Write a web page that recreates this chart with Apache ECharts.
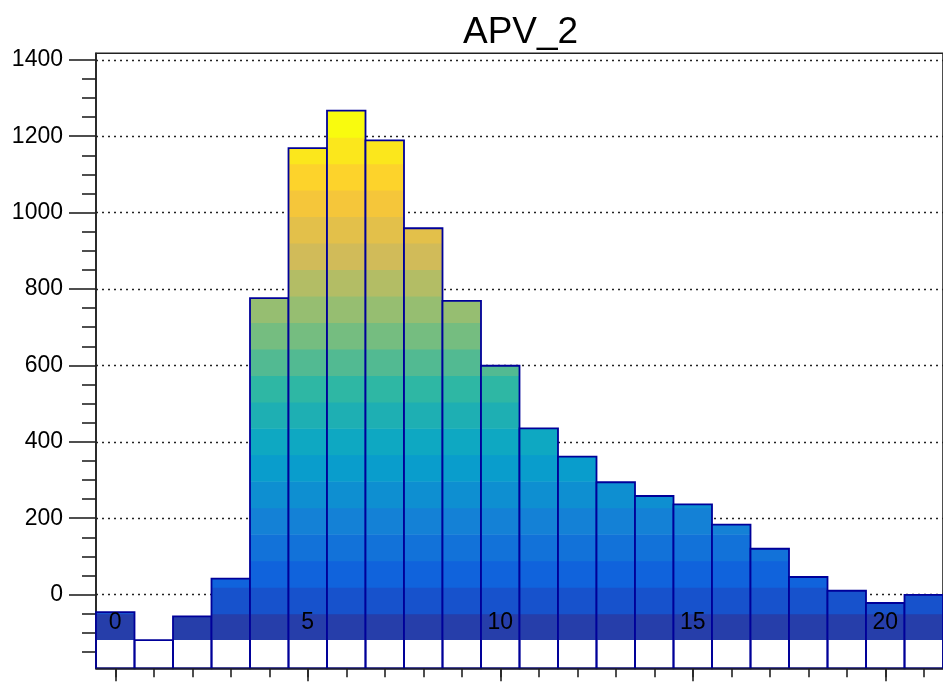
<!DOCTYPE html>
<html>
<head>
<meta charset="utf-8">
<title>APV_2</title>
<script src="https://cdn.jsdelivr.net/npm/echarts@6/dist/echarts.min.js"></script>
<style>
  html, body { margin: 0; padding: 0; background: #fff; }
  #chart { width: 943px; height: 683px; }
</style>
</head>
<body>
<div id="chart"></div>
<script>
// Histogram "APV_2": one entry per unit-width bin, centred on the integers.
const binCenters = [0, 1, 2, 3, 4, 5, 6, 7, 8, 9, 10, 11, 12, 13, 14, 15, 16, 17, 18, 19, 20, 21];
const binContents = [-46, -119, -57, 42, 776, 1169, 1267, 1189, 959, 769, 599, 435, 361, 294, 258, 236, 183, 120, 46, 10, -22, -1];

// Axis ticks and labels
const xMajorTicks = [0, 5, 10, 15, 20];
const xMinorTicks = [0, 1, 2, 3, 4, 5, 6, 7, 8, 9, 10, 11, 12, 13, 14, 15, 16, 17, 18, 19, 20, 21];
const yMajorTicks = [0, 200, 400, 600, 800, 1000, 1200, 1400];
const yMinorTicks = [-150, -100, -50, 50, 100, 150, 250, 300, 350, 450, 500, 550, 650, 700, 750,
                     850, 900, 950, 1050, 1100, 1150, 1250, 1300, 1350];

// Frame ranges
const X_MIN = -0.5, X_MAX = 21.5;
const Y_MIN = -193, Y_MAX = 1417;

// Bird palette stops (fraction, r, g, b)
const paletteStops = [0, 0.125, 0.25, 0.375, 0.5, 0.625, 0.75, 0.875, 1];
const paletteR = [0.2082, 0.0592, 0.0780, 0.0232, 0.1802, 0.5301, 0.8186, 0.9956, 0.9764];
const paletteG = [0.1664, 0.3599, 0.5041, 0.6419, 0.7178, 0.7492, 0.7328, 0.7862, 0.9832];
const paletteB = [0.5293, 0.8684, 0.8385, 0.7914, 0.6425, 0.4662, 0.3499, 0.1968, 0.0539];
const N_LEVELS = 20;

function paletteColor(f) {
  let k = 0;
  while (k < paletteStops.length - 2 && f > paletteStops[k + 1]) k++;
  const t = (f - paletteStops[k]) / (paletteStops[k + 1] - paletteStops[k]);
  const mix = (arr) => Math.round(255 * (arr[k] + t * (arr[k + 1] - arr[k])));
  return 'rgb(' + mix(paletteR) + ',' + mix(paletteG) + ',' + mix(paletteB) + ')';
}

const levelColors = [];
for (let i = 0; i < N_LEVELS; i++) levelColors.push(paletteColor((i + 1) / N_LEVELS));

const zMin = Math.min(...binContents);
const zMax = Math.max(...binContents);
const zStep = (zMax - zMin) / N_LEVELS;

const FONT = "'Liberation Sans', Arial, Helvetica, sans-serif";
const AXIS_COLOR = '#222';

const chart = echarts.init(document.getElementById('chart'), null, { renderer: 'canvas' });

function renderBin(params, api) {
  const x = api.value(0);
  const v = api.value(1);
  const left = api.coord([x - 0.5, 0])[0];
  const right = api.coord([x + 0.5, 0])[0];
  const yTop = api.coord([x, v])[1];
  const yBase = api.coord([x, Y_MIN])[1];
  const children = [];
  // colour bands by height, starting from the histogram minimum
  for (let i = 0; i < N_LEVELS; i++) {
    const lo = zMin + i * zStep;
    if (v <= lo) break;
    const hi = Math.min(lo + zStep, v);
    const y0 = api.coord([x, lo])[1];
    const y1 = api.coord([x, hi])[1];
    children.push({
      type: 'rect',
      shape: { x: left, y: y1, width: right - left, height: y0 - y1 + (i > 0 ? 0.6 : 0) },
      style: { fill: levelColors[i] }
    });
  }
  // bin outline down to the frame bottom
  children.push({
    type: 'rect',
    shape: { x: left, y: yTop, width: right - left, height: yBase - yTop },
    style: { fill: 'none', stroke: '#000099', lineWidth: 1.8 }
  });
  return { type: 'group', children: children };
}

const plainNumber = (v) => String(v);

const option = {
  animation: false,
  backgroundColor: '#ffffff',
  title: {
    text: 'APV_2',
    left: 458,
    top: 9,
    textStyle: { fontFamily: FONT, fontSize: 37, fontWeight: 'normal', color: '#000' }
  },
  grid: {
    left: 96, right: -27, top: 53.3, bottom: 14.7,
    show: true, borderColor: AXIS_COLOR, borderWidth: 1.6, backgroundColor: 'transparent',
    containLabel: false
  },
  xAxis: [
    {
      type: 'value', min: X_MIN, max: X_MAX, position: 'bottom', z: 5,
      axisLine: { show: true, onZero: false, lineStyle: { color: AXIS_COLOR, width: 1.6 } },
      axisTick: { show: true, inside: false, length: 13, customValues: xMajorTicks,
                  lineStyle: { color: AXIS_COLOR, width: 1.6 } },
      axisLabel: { show: true, customValues: xMajorTicks, margin: -57, formatter: plainNumber,
                   fontFamily: FONT, fontSize: 23, color: '#000' },
      splitLine: { show: false }
    },
    {
      type: 'value', min: X_MIN, max: X_MAX, position: 'bottom', z: 5, offset: 0,
      axisLine: { show: false, onZero: false },
      axisTick: { show: true, inside: false, length: 9, customValues: xMinorTicks,
                  lineStyle: { color: AXIS_COLOR, width: 1.6 } },
      axisLabel: { show: false },
      splitLine: { show: false }
    }
  ],
  yAxis: [
    {
      type: 'value', min: Y_MIN, max: Y_MAX, position: 'left',
      axisLine: { show: true, onZero: false, lineStyle: { color: AXIS_COLOR, width: 1.6 } },
      axisTick: { show: true, inside: false, length: 27, customValues: yMajorTicks,
                  lineStyle: { color: AXIS_COLOR, width: 1.6 } },
      axisLabel: { show: true, customValues: yMajorTicks, margin: 33, formatter: plainNumber,
                   fontFamily: FONT, fontSize: 23, color: '#000' },
      splitLine: { show: true, lineStyle: { color: AXIS_COLOR, width: 1.4, type: [2, 4] } }
    },
    {
      type: 'value', min: Y_MIN, max: Y_MAX, position: 'left', offset: 0,
      axisLine: { show: false, onZero: false },
      axisTick: { show: true, inside: false, length: 14, customValues: yMinorTicks,
                  lineStyle: { color: AXIS_COLOR, width: 1.6 } },
      axisLabel: { show: false },
      splitLine: { show: false }
    }
  ],
  series: [
    {
      type: 'custom',
      name: 'APV_2',
      xAxisIndex: 0,
      yAxisIndex: 0,
      z: 2,
      renderItem: renderBin,
      encode: { x: 0, y: 1 },
      data: binCenters.map((c, i) => [c, binContents[i]])
    }
  ]
};

chart.setOption(option);
</script>
</body>
</html>
